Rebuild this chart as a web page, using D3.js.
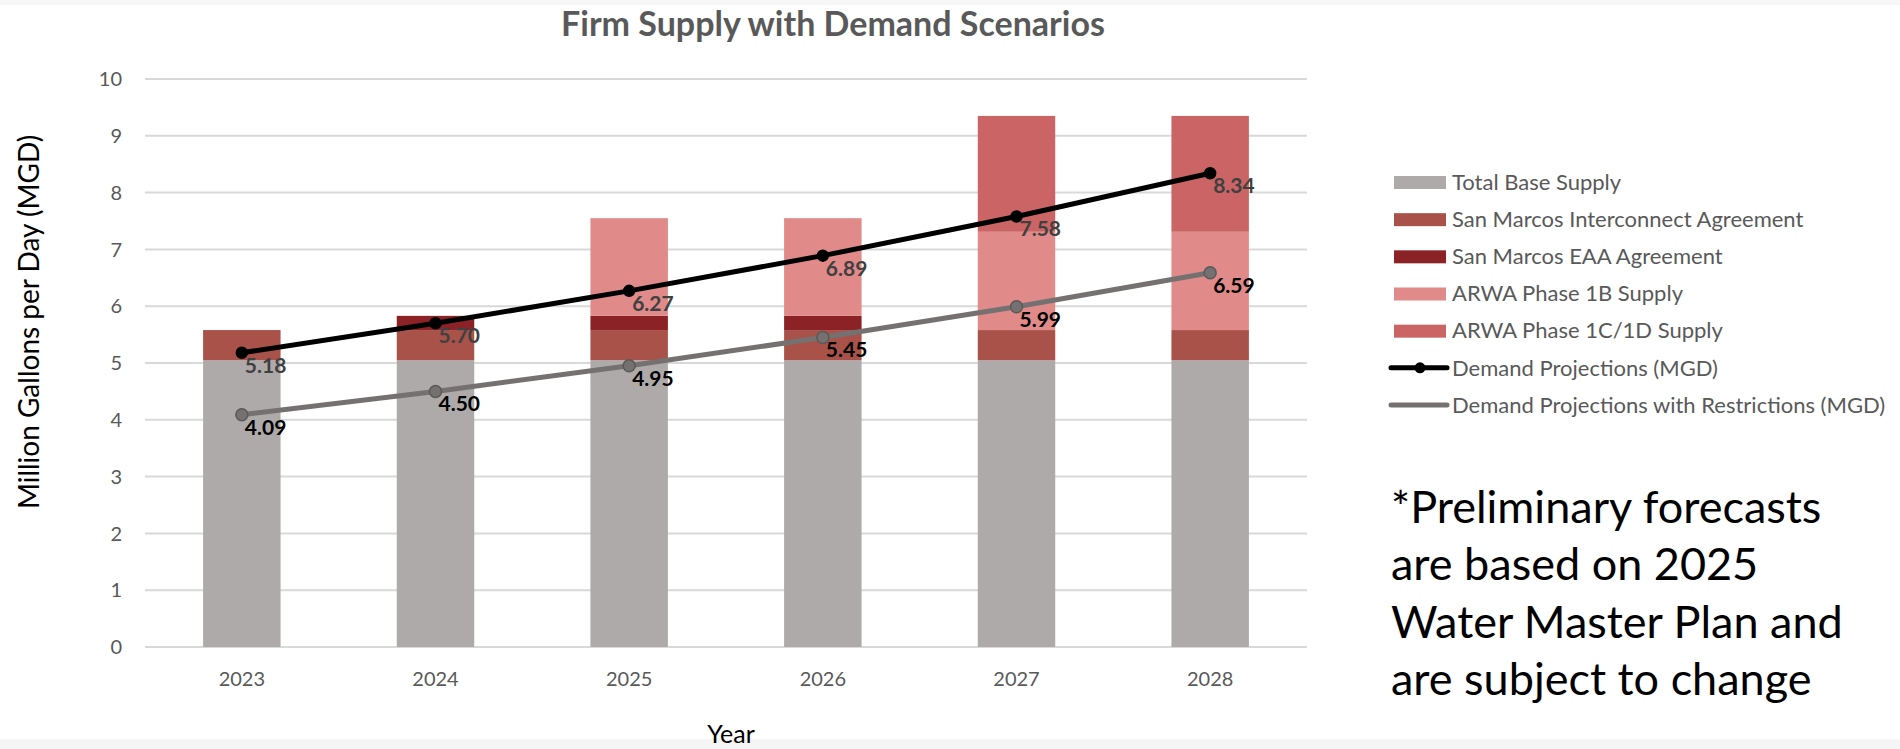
<!DOCTYPE html>
<html>
<head>
  <script src="https://cdnjs.cloudflare.com/ajax/libs/d3/7.8.5/d3.min.js"></script>
  <style>
    body { margin: 0; background: #ffffff; }
    svg { display: block; font-family: Lato, "Open Sans", sans-serif; }
    .tick-label { fill: #595959; font-size: 20px; }
    .legend text { fill: #595959; font-size: 22px; }
  </style>
</head>
<body>
  <svg id="chart" width="1900" height="749"></svg>
  <script>
    // chart data
    var years = ["2023", "2024", "2025", "2026", "2027", "2028"];
    var baseSupply = [5.05, 5.05, 5.05, 5.05, 5.05, 5.05];
    var interconnect = [0.53, 0.53, 0.53, 0.53, 0.53, 0.53];
    var eaa = [0, 0.25, 0.25, 0.25, 0, 0];
    var arwa1B = [0, 0, 1.72, 1.72, 1.73, 1.73];
    var arwa1CD = [0, 0, 0, 0, 2.04, 2.04];
    var demand = [5.18, 5.70, 6.27, 6.89, 7.58, 8.34];
    var demandRestricted = [4.09, 4.50, 4.95, 5.45, 5.99, 6.59];
    var yTicks = [0, 1, 2, 3, 4, 5, 6, 7, 8, 9, 10];

    var stackNames = ["Total Base Supply", "San Marcos Interconnect Agreement",
      "San Marcos EAA Agreement", "ARWA Phase 1B Supply", "ARWA Phase 1C/1D Supply"];
    var stackColors = ["#aeaaaa", "#a9524a", "#8b2226", "#e08a8a", "#cb6565"];
    var lineNames = ["Demand Projections (MGD)", "Demand Projections with Restrictions (MGD)"];

    var svg = d3.select("#chart");

    // faint strips at top and bottom of the picture
    svg.append("rect").attr("x", 0).attr("y", 0).attr("width", 1900).attr("height", 5).attr("fill", "#f7f7f7");
    svg.append("rect").attr("x", 0).attr("y", 739).attr("width", 1900).attr("height", 10).attr("fill", "#f5f5f5");

    var x = d3.scaleBand()
      .domain(years)
      .range([145, 1307])
      .paddingInner(0.6)
      .paddingOuter(0.3);

    var y = d3.scaleLinear()
      .domain([0, 10])
      .range([647, 79]);

    // gridlines
    svg.append("g")
      .selectAll("line")
      .data(yTicks)
      .enter()
      .append("line")
      .attr("x1", 145)
      .attr("x2", 1307)
      .attr("y1", d => y(d))
      .attr("y2", d => y(d))
      .attr("stroke", "#d9d9d9")
      .attr("stroke-width", 2);

    // y tick labels
    svg.append("g")
      .selectAll("text")
      .data(yTicks)
      .enter()
      .append("text")
      .attr("class", "tick-label")
      .attr("x", 122)
      .attr("y", d => y(d))
      .attr("dy", "0.36em")
      .attr("text-anchor", "end")
      .text(d => d);

    // x tick labels
    svg.append("g")
      .selectAll("text")
      .data(years)
      .enter()
      .append("text")
      .attr("class", "tick-label")
      .attr("x", d => x(d) + x.bandwidth() / 2)
      .attr("y", 686)
      .attr("text-anchor", "middle")
      .text(d => d);

    // stacked bars
    var table = years.map(function(yr, i) {
      return {
        year: yr,
        s0: baseSupply[i], s1: interconnect[i], s2: eaa[i], s3: arwa1B[i], s4: arwa1CD[i]
      };
    });
    var keys = ["s0", "s1", "s2", "s3", "s4"];
    var series = d3.stack().keys(keys)(table);

    svg.append("g")
      .selectAll("g")
      .data(series)
      .enter()
      .append("g")
      .attr("fill", (d, i) => stackColors[i])
      .selectAll("rect")
      .data(d => d)
      .enter()
      .append("rect")
      .attr("x", d => x(d.data.year))
      .attr("width", x.bandwidth())
      .attr("y", d => y(d[1]))
      .attr("height", d => y(d[0]) - y(d[1]));

    // lines
    var line = d3.line()
      .x((d, i) => x(years[i]) + x.bandwidth() / 2)
      .y(d => y(d));

    function drawLine(values, color, dotFill, dotStroke, r, labelColor) {
      svg.append("path")
        .datum(values)
        .attr("d", line)
        .attr("fill", "none")
        .attr("stroke", color)
        .attr("stroke-width", 5);

      svg.append("g")
        .selectAll("circle")
        .data(values)
        .enter()
        .append("circle")
        .attr("cx", (d, i) => x(years[i]) + x.bandwidth() / 2)
        .attr("cy", d => y(d))
        .attr("r", r)
        .attr("fill", dotFill)
        .attr("stroke", dotStroke)
        .attr("stroke-width", 1.5);

      svg.append("g")
        .selectAll("text")
        .data(values)
        .enter()
        .append("text")
        .attr("x", (d, i) => x(years[i]) + x.bandwidth() / 2 + 3)
        .attr("y", d => y(d) + 20)
        .attr("fill", labelColor)
        .attr("font-weight", "bold")
        .attr("font-size", "21px")
        .text(d => d.toFixed(2));
    }

    drawLine(demandRestricted, "#767171", "#767171", "#595959", 6, "#000000");
    drawLine(demand, "#000000", "#000000", "#000000", 5.5, "#404040");

    // title
    svg.append("text")
      .attr("x", 833)
      .attr("y", 36)
      .attr("text-anchor", "middle")
      .attr("font-weight", "bold")
      .attr("font-size", "34px")
      .attr("fill", "#595959")
      .text("Firm Supply with Demand Scenarios");

    // axis titles
    svg.append("text")
      .attr("transform", "translate(39,322) rotate(-90)")
      .attr("text-anchor", "middle")
      .attr("font-size", "28px")
      .attr("fill", "#000000")
      .text("Million Gallons per Day (MGD)");

    svg.append("text")
      .attr("x", 731)
      .attr("y", 743)
      .attr("text-anchor", "middle")
      .attr("font-size", "25px")
      .attr("fill", "#000000")
      .text("Year");

    // legend
    var legend = svg.append("g").attr("class", "legend");
    var rowY = d3.scalePoint().domain(d3.range(7)).range([182, 405]);

    stackNames.forEach(function(name, i) {
      legend.append("rect")
        .attr("x", 1394)
        .attr("y", rowY(i) - 6)
        .attr("width", 52)
        .attr("height", 13)
        .attr("fill", stackColors[i]);
      legend.append("text")
        .attr("x", 1452)
        .attr("y", rowY(i))
        .attr("dy", "0.35em")
        .text(name);
    });

    var lineColors = ["#000000", "#767171"];
    lineNames.forEach(function(name, j) {
      var ry = rowY(stackNames.length + j);
      legend.append("line")
        .attr("x1", 1391)
        .attr("x2", 1447)
        .attr("y1", ry)
        .attr("y2", ry)
        .attr("stroke", lineColors[j])
        .attr("stroke-width", 5)
        .attr("stroke-linecap", "round");
      if (j === 0) {
        legend.append("circle")
          .attr("cx", 1420)
          .attr("cy", ry)
          .attr("r", 5.5)
          .attr("fill", "#000000");
      }
      legend.append("text")
        .attr("x", 1452)
        .attr("y", ry)
        .attr("dy", "0.35em")
        .text(name);
    });

    // note
    var note = ["*Preliminary forecasts", "are based on 2025", "Water Master Plan and", "are subject to change"];
    svg.append("g")
      .selectAll("text")
      .data(note)
      .enter()
      .append("text")
      .attr("x", 1391)
      .attr("y", (d, i) => 523 + i * 57.3)
      .attr("font-size", "45px")
      .attr("fill", "#000000")
      .text(d => d);
  </script>
</body>
</html>
